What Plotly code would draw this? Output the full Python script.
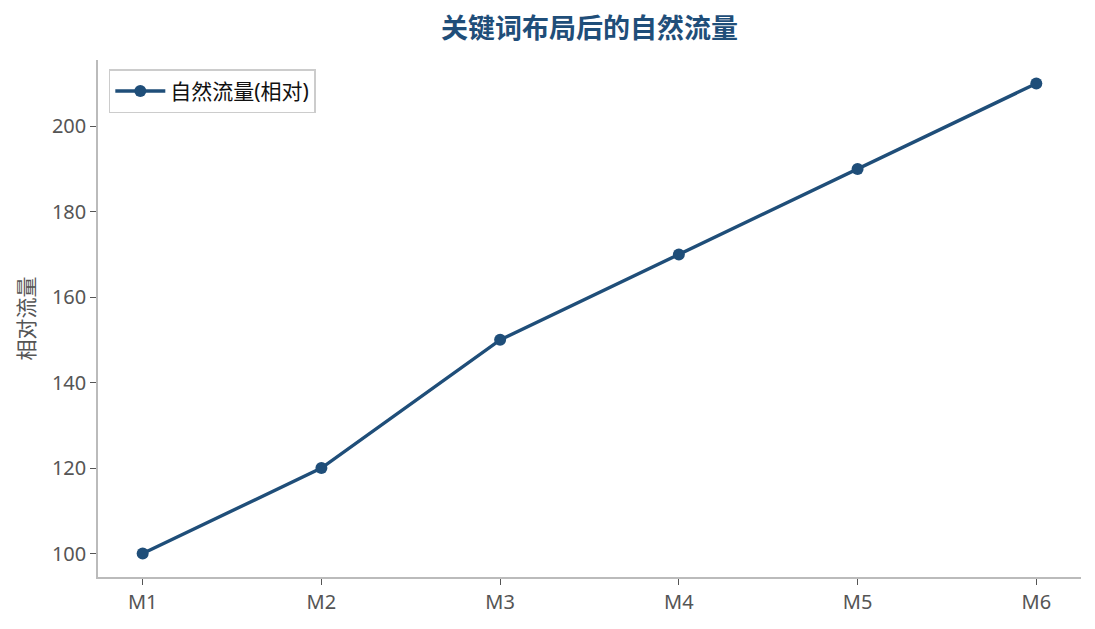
import plotly.graph_objects as go

months = ["M1", "M2", "M3", "M4", "M5", "M6"]
traffic = [100, 120, 150, 170, 190, 210]
y_ticks = [100, 120, 140, 160, 180, 200]

line_color = "#1f4e79"
font_family = "Noto Sans, Noto Sans CJK SC, sans-serif"

fig = go.Figure()
fig.add_trace(go.Scatter(
    x=list(range(len(months))), y=traffic,
    mode="lines+markers",
    name="自然流量(相对)",
    line=dict(color=line_color, width=3.4),
    marker=dict(color=line_color, size=12),
))

fig.update_layout(
    width=1095, height=629,
    paper_bgcolor="white", plot_bgcolor="white",
    margin=dict(l=90, r=22, t=52, b=60),
    font=dict(family=font_family, size=20, color="#555555"),
    title=dict(text="<b>关键词布局后的自然流量</b>", x=0.5, xanchor="center", xref="paper",
               y=0.968, yanchor="middle",
               font=dict(size=27, color=line_color, family=font_family)),
    showlegend=True,
    legend=dict(x=0.011, y=0.982, xanchor="left", yanchor="top",
                bgcolor="white", bordercolor="#cccccc", borderwidth=1.5,
                itemwidth=50,
                font=dict(size=21, color="#111111")),
)

fig.update_xaxes(
    range=[-0.25, 5.25], tickvals=list(range(len(months))), ticktext=months,
    showline=True, linecolor="#bbbbbb", linewidth=1.5,
    ticks="outside", ticklen=6, tickcolor="#555555", showgrid=False, zeroline=False,
)
fig.update_yaxes(
    range=[94.5, 215.5], tickvals=y_ticks,
    showline=True, linecolor="#bbbbbb", linewidth=1.5,
    ticks="outside", ticklen=6, tickcolor="#555555", showgrid=False, zeroline=False,
    title=dict(text="相对流量", font=dict(size=21, color="#555555"), standoff=12),
)

fig.write_html("out.html")
